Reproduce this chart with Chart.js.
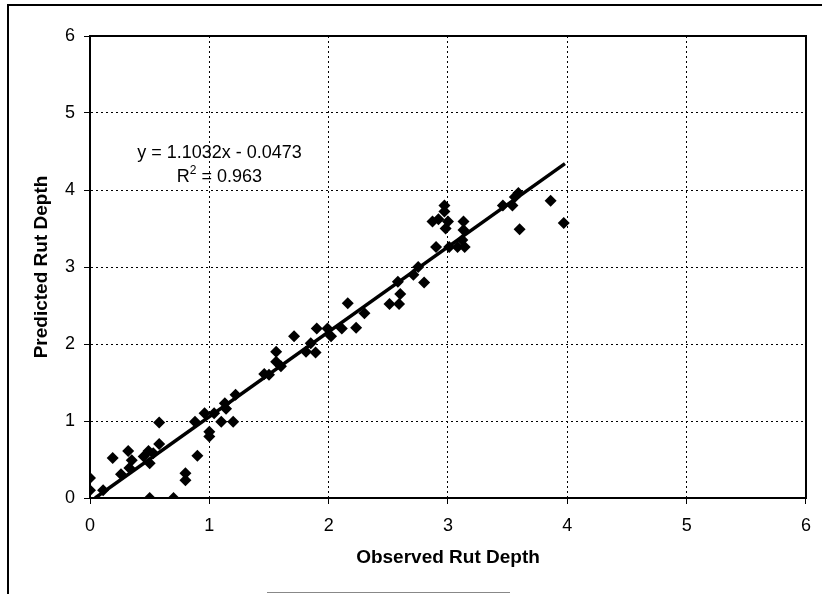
<!DOCTYPE html>
<html>
<head>
<meta charset="utf-8">
<script src="https://cdn.jsdelivr.net/npm/chart.js@4"></script>
<style>
  html, body { margin: 0; padding: 0; background: #fff; }
  #wrap { width: 822px; height: 594px; position: relative; }
</style>
</head>
<body>
<div id="wrap"><canvas id="chart" width="822" height="594"></canvas></div>
<script>
// ---------- DATOS ----------
const observed = [
  0, 0, 0.11, 0.50, 0.70, 0.19, 0.32, 0.35, 0.26, 0.33,
  0.49, 0.50, 0.58, 0.58, 0.53, 0.45, 0.80, 0.80, 0.90, 0.88,
  0.96, 1.00, 1.00, 1.04, 1.10, 1.20, 1.13, 1.14, 1.22, 1.46,
  1.50, 1.56, 1.56, 1.60, 1.71, 1.81, 1.85, 1.89, 1.90, 1.99,
  2.02, 2.11, 2.16, 2.23, 2.30, 2.51, 2.59, 2.60, 2.58, 2.71,
  2.75, 2.80, 2.87, 2.92, 2.90, 2.97, 2.97, 2.98, 3.00, 3.01,
  3.08, 3.13, 3.13, 3.12, 3.14, 3.46, 3.54, 3.56, 3.59, 3.60,
  3.86, 3.97
];
const predicted = [
  0.26, 0.10, 0.10, 0.00, 0.00, 0.52, 0.61, 0.49, 0.31, 0.39,
  0.61, 0.45, 0.70, 0.98, 0.58, 0.54, 0.32, 0.23, 0.55, 0.99,
  1.10, 0.86, 0.80, 1.10, 0.99, 0.99, 1.23, 1.16, 1.34, 1.61,
  1.60, 1.77, 1.90, 1.71, 2.10, 1.90, 2.01, 1.89, 2.20, 2.20,
  2.10, 2.20, 2.53, 2.21, 2.40, 2.52, 2.52, 2.65, 2.81, 2.90,
  3.00, 2.80, 3.59, 3.62, 3.26, 3.80, 3.72, 3.50, 3.59, 3.26,
  3.26, 3.59, 3.48, 3.35, 3.26, 3.80, 3.80, 3.91, 3.96, 3.49,
  3.86, 3.57
];
const trendSlope = 1.1032;
const trendIntercept = -0.0473;
const trendRange = [0.043, 3.98];
const tickLabels = ['0', '1', '2', '3', '4', '5', '6'];
const equationText = 'y = 1.1032x - 0.0473';
const r2Value = '0.963';

const FONT = "'Liberation Sans', Arial, sans-serif";

const points = observed.map((x, i) => ({ x: x, y: predicted[i] }));
const trendPoints = trendRange.map(x => ({ x: x, y: trendSlope * x + trendIntercept }));

// marco del grafico y del area de trazado
const framePlugin = {
  id: 'frame',
  afterDraw(chart) {
    const ctx = chart.ctx;
    const a = chart.chartArea;
    ctx.save();
    ctx.strokeStyle = '#000';
    ctx.lineWidth = 2;
    ctx.strokeRect(a.left, a.top, a.right - a.left, a.bottom - a.top);
    // borde exterior
    ctx.beginPath();
    ctx.moveTo(8, 594);
    ctx.lineTo(8, 5);
    ctx.lineTo(822, 5);
    ctx.stroke();
    ctx.strokeStyle = '#888';
    ctx.lineWidth = 1;
    ctx.beginPath();
    ctx.moveTo(267, 592.5);
    ctx.lineTo(510, 592.5);
    ctx.stroke();
    ctx.restore();
  }
};

// texto de la ecuacion de regresion
const equationPlugin = {
  id: 'equation',
  afterDatasetsDraw(chart) {
    const ctx = chart.ctx;
    const xs = chart.scales.x, ys = chart.scales.y;
    const cx = xs.getPixelForValue(1.085);
    ctx.save();
    ctx.fillStyle = '#000';
    ctx.textBaseline = 'middle';
    ctx.font = '18px ' + FONT;
    ctx.textAlign = 'center';
    ctx.fillText(equationText, cx, ys.getPixelForValue(4.48));

    const y2 = ys.getPixelForValue(4.17);
    const rest = ' = ' + r2Value;
    const wR = ctx.measureText('R').width;
    const wRest = ctx.measureText(rest).width;
    ctx.font = '12px ' + FONT;
    const wSup = ctx.measureText('2').width;
    const x0 = cx - (wR + wSup + wRest) / 2;
    ctx.textAlign = 'left';
    ctx.font = '18px ' + FONT;
    ctx.fillText('R', x0, y2);
    ctx.font = '12px ' + FONT;
    ctx.fillText('2', x0 + wR, y2 - 6);
    ctx.font = '18px ' + FONT;
    ctx.fillText(rest, x0 + wR + wSup, y2);
    ctx.restore();
  }
};

new Chart(document.getElementById('chart'), {
  type: 'scatter',
  data: {
    datasets: [
      {
        label: 'Rut Depth',
        data: points,
        pointStyle: 'rectRot',
        pointRadius: 6,
        pointBackgroundColor: '#000',
        pointBorderColor: '#000',
        pointBorderWidth: 0
      },
      {
        label: 'Trend',
        type: 'line',
        data: trendPoints,
        showLine: true,
        borderColor: '#000',
        borderWidth: 3.5,
        pointRadius: 0,
        fill: false
      }
    ]
  },
  options: {
    responsive: false,
    animation: false,
    layout: { padding: { left: 0, right: 13, top: 36, bottom: 0 } },
    plugins: {
      legend: { display: false },
      tooltip: { enabled: false }
    },
    scales: {
      x: {
        type: 'linear',
        min: 0,
        max: 6,
        afterFit(scale) { scale.height = 96; },
        ticks: {
          stepSize: 1,
          color: '#000',
          padding: 11,
          maxRotation: 0,
          font: { family: FONT, size: 18 },
          callback: (v) => tickLabels[v]
        },
        grid: {
          color: '#000',
          lineWidth: 1,
          tickLength: 6,
          tickColor: '#000',
          tickBorderDash: []
        },
        border: { color: '#000', width: 2, dash: [2, 3] },
        title: {
          display: true,
          text: 'Observed Rut Depth',
          color: '#000',
          font: { family: FONT, size: 19, weight: 'bold' },
          padding: { top: 0, bottom: 25 }
        }
      },
      y: {
        type: 'linear',
        min: 0,
        max: 6,
        afterFit(scale) { scale.width = 90; },
        ticks: {
          stepSize: 1,
          color: '#000',
          padding: 9,
          font: { family: FONT, size: 18 },
          callback: (v) => tickLabels[v]
        },
        grid: {
          color: '#000',
          lineWidth: 1,
          tickLength: 6,
          tickColor: '#000',
          tickBorderDash: []
        },
        border: { color: '#000', width: 2, dash: [2, 3] },
        title: {
          display: true,
          text: 'Predicted Rut Depth',
          color: '#000',
          font: { family: FONT, size: 19, weight: 'bold' },
          padding: { top: 30, bottom: 0 }
        }
      }
    }
  },
  plugins: [framePlugin, equationPlugin]
});
</script>
</body>
</html>
